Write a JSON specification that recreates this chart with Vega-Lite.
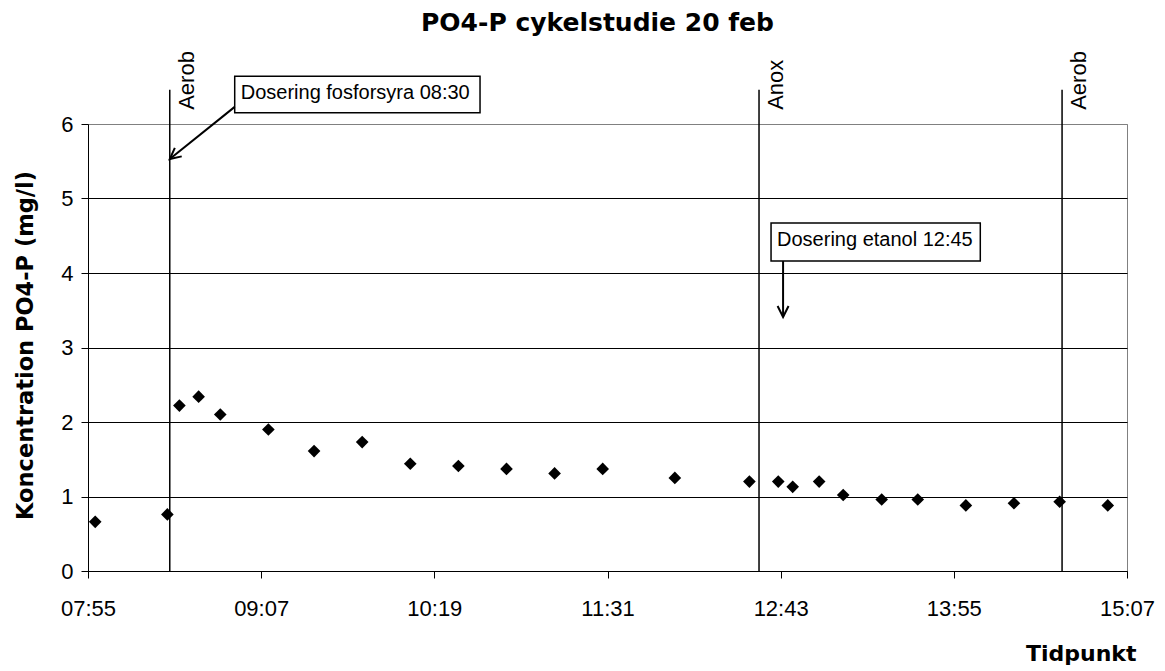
{
  "$schema": "https://vega.github.io/schema/vega-lite/v6.json",
  "width": 1039,
  "height": 447,
  "autosize": {"type": "none"},
  "padding": {"left": 88, "top": 124, "right": 38, "bottom": 100},
  "background": "white",
  "config": {
    "view": {"stroke": "#808080", "strokeWidth": 1, "fill": "white"},
    "axisX": {
      "grid": false,
      "domainColor": "black",
      "domainWidth": 1,
      "tickColor": "black",
      "tickSize": 7,
      "labelFont": "Liberation Sans",
      "labelFontSize": 22,
      "labelColor": "black",
      "labelPadding": 20,
      "labelFlush": false,
      "labelOverlap": false,
      "titleFont": "DejaVu Sans",
      "titleFontSize": 22,
      "titleFontWeight": "bold",
      "titleColor": "black",
      "titleAlign": "right",
      "titleAnchor": "end",
      "titleBaseline": "alphabetic",
      "titleX": 1048,
      "titleY": 89
    },
    "axisY": {
      "grid": true,
      "gridWidth": 1,
      "domainColor": "black",
      "tickColor": "black",
      "tickSize": 7,
      "labelFont": "Liberation Sans",
      "labelFontSize": 22,
      "labelColor": "black",
      "labelPadding": 8,
      "titleFont": "DejaVu Sans",
      "titleFontSize": 22.5,
      "titleFontWeight": "bold",
      "titleColor": "black",
      "titleAngle": -90,
      "titleAlign": "center",
      "titleBaseline": "alphabetic",
      "titleX": -56,
      "titleY": 221
    }
  },
  "title": {
    "text": "PO4-P cykelstudie 20 feb",
    "font": "DejaVu Sans",
    "fontSize": 25,
    "fontWeight": "bold",
    "color": "black",
    "anchor": "middle",
    "frame": "group",
    "dx": -10,
    "offset": -5,
    "baseline": "alphabetic"
  },
  "layer": [
    {
      "data": {
        "values": [
          {"Fran": "08:56", "Till": "10:38", "Ovre": 6.64, "Nedre": 6.15, "Text": "Dosering fosforsyra 08:30"},
          {"Fran": "12:39", "Till": "14:06", "Ovre": 4.67, "Nedre": 4.16, "Text": "Dosering etanol 12:45"}
        ],
        "format": {"parse": {"Fran": "date:'%H:%M'", "Till": "date:'%H:%M'"}}
      },
      "layer": [
        {
          "mark": {"type": "rect", "fill": "white", "stroke": "black", "strokeWidth": 1.5},
          "encoding": {
            "x": {"field": "Fran", "type": "temporal"},
            "x2": {"field": "Till"},
            "y": {"field": "Ovre", "type": "quantitative"},
            "y2": {"field": "Nedre"}
          }
        },
        {
          "mark": {"type": "text", "align": "left", "baseline": "top", "dx": 6, "dy": 7, "font": "Liberation Sans", "fontSize": 20, "color": "black"},
          "encoding": {
            "x": {"field": "Fran", "type": "temporal"},
            "y": {"field": "Ovre", "type": "quantitative"},
            "text": {"field": "Text"}
          }
        }
      ]
    },
    {
      "data": {
        "values": [
          {"Fran": "08:56", "FranVarde": 6.23, "Till": "08:29", "TillVarde": 5.53},
          {"Fran": "12:44", "FranVarde": 4.16, "Till": "12:44", "TillVarde": 3.41}
        ],
        "format": {"parse": {"Fran": "date:'%H:%M'", "Till": "date:'%H:%M'"}}
      },
      "mark": {"type": "rule", "color": "black", "strokeWidth": 2},
      "encoding": {
        "x": {"field": "Fran", "type": "temporal"},
        "x2": {"field": "Till"},
        "y": {"field": "FranVarde", "type": "quantitative"},
        "y2": {"field": "TillVarde"}
      }
    },
    {
      "data": {
        "values": [{"Till": "08:29", "TillVarde": 5.53}],
        "format": {"parse": {"Till": "date:'%H:%M'"}}
      },
      "mark": {"type": "point", "shape": "M -0.5 1 L 0 0 L 0.5 1", "filled": false, "stroke": "black", "strokeWidth": 2, "opacity": 1, "size": 480, "angle": 231},
      "encoding": {
        "x": {"field": "Till", "type": "temporal"},
        "y": {"field": "TillVarde", "type": "quantitative"}
      }
    },
    {
      "data": {
        "values": [{"Till": "12:44", "TillVarde": 3.41}],
        "format": {"parse": {"Till": "date:'%H:%M'"}}
      },
      "mark": {"type": "point", "shape": "M -0.5 1 L 0 0 L 0.5 1", "filled": false, "stroke": "black", "strokeWidth": 2, "opacity": 1, "size": 480, "angle": 180},
      "encoding": {
        "x": {"field": "Till", "type": "temporal"},
        "y": {"field": "TillVarde", "type": "quantitative"}
      }
    },
    {
      "data": {
        "values": [
          {"Tid": "08:29", "Fas": "Aerob"},
          {"Tid": "12:34", "Fas": "Anox"},
          {"Tid": "14:40", "Fas": "Aerob"}
        ],
        "format": {"parse": {"Tid": "date:'%H:%M'"}}
      },
      "layer": [
        {
          "mark": {"type": "rule", "color": "black", "strokeWidth": 1.5},
          "encoding": {
            "x": {"field": "Tid", "type": "temporal"},
            "y": {"datum": 0, "type": "quantitative"},
            "y2": {"datum": 6.46}
          }
        },
        {
          "mark": {"type": "text", "angle": 270, "align": "left", "baseline": "top", "dy": 7, "font": "Liberation Sans", "fontSize": 22, "color": "black"},
          "encoding": {
            "x": {"field": "Tid", "type": "temporal"},
            "y": {"datum": 6.19, "type": "quantitative"},
            "text": {"field": "Fas"}
          }
        }
      ]
    },
    {
      "data": {
        "values": [
          {"Tid": "07:58", "PO4P": 0.66},
          {"Tid": "08:28", "PO4P": 0.76},
          {"Tid": "08:33", "PO4P": 2.22},
          {"Tid": "08:41", "PO4P": 2.34},
          {"Tid": "08:50", "PO4P": 2.10},
          {"Tid": "09:10", "PO4P": 1.90},
          {"Tid": "09:29", "PO4P": 1.61},
          {"Tid": "09:49", "PO4P": 1.73},
          {"Tid": "10:09", "PO4P": 1.44},
          {"Tid": "10:29", "PO4P": 1.41},
          {"Tid": "10:49", "PO4P": 1.37},
          {"Tid": "11:09", "PO4P": 1.31},
          {"Tid": "11:29", "PO4P": 1.37},
          {"Tid": "11:59", "PO4P": 1.25},
          {"Tid": "12:30", "PO4P": 1.20},
          {"Tid": "12:42", "PO4P": 1.20},
          {"Tid": "12:48", "PO4P": 1.13},
          {"Tid": "12:59", "PO4P": 1.20},
          {"Tid": "13:09", "PO4P": 1.02},
          {"Tid": "13:25", "PO4P": 0.96},
          {"Tid": "13:40", "PO4P": 0.96},
          {"Tid": "14:00", "PO4P": 0.88},
          {"Tid": "14:20", "PO4P": 0.91},
          {"Tid": "14:39", "PO4P": 0.93},
          {"Tid": "14:59", "PO4P": 0.88}
        ],
        "format": {"parse": {"Tid": "date:'%H:%M'"}}
      },
      "mark": {"type": "point", "shape": "diamond", "filled": true, "color": "black", "opacity": 1, "size": 160},
      "encoding": {
        "x": {
          "field": "Tid",
          "type": "temporal",
          "scale": {
            "domain": [
              {"year": 1900, "month": 1, "date": 1, "hours": 7, "minutes": 55},
              {"year": 1900, "month": 1, "date": 1, "hours": 15, "minutes": 7}
            ],
            "nice": false
          },
          "axis": {
            "values": [
              {"year": 1900, "month": 1, "date": 1, "hours": 7, "minutes": 55},
              {"year": 1900, "month": 1, "date": 1, "hours": 9, "minutes": 7},
              {"year": 1900, "month": 1, "date": 1, "hours": 10, "minutes": 19},
              {"year": 1900, "month": 1, "date": 1, "hours": 11, "minutes": 31},
              {"year": 1900, "month": 1, "date": 1, "hours": 12, "minutes": 43},
              {"year": 1900, "month": 1, "date": 1, "hours": 13, "minutes": 55},
              {"year": 1900, "month": 1, "date": 1, "hours": 15, "minutes": 7}
            ],
            "format": "%H:%M",
            "formatType": "time",
            "title": "Tidpunkt"
          }
        },
        "y": {
          "field": "PO4P",
          "type": "quantitative",
          "scale": {"domain": [0, 6], "nice": false, "zero": true},
          "axis": {
            "values": [0, 1, 2, 3, 4, 5, 6],
            "format": "d",
            "gridColor": {"condition": {"test": "datum.value == 6", "value": "#808080"}, "value": "black"},
            "title": "Koncentration PO4-P (mg/l)"
          }
        }
      }
    }
  ]
}
